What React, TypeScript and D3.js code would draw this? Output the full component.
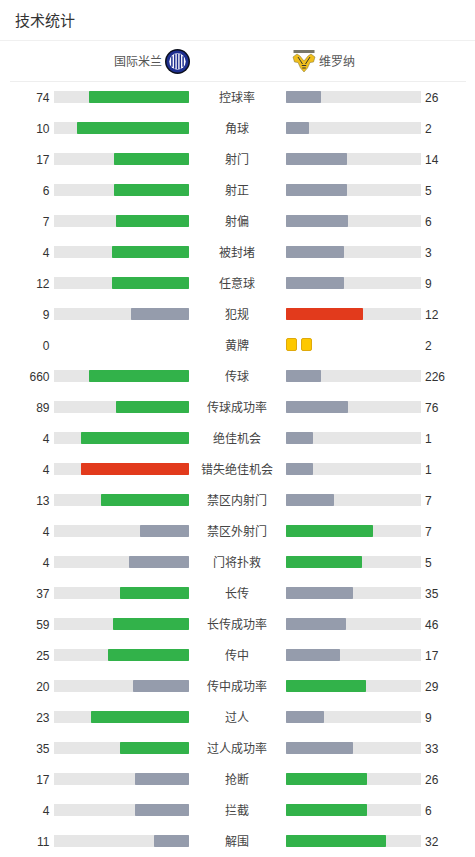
import React from "react";
import * as d3 from "d3";

const categories = ["控球率","角球","射门","射正","射偏","被封堵","任意球","犯规","黄牌","传球","传球成功率","绝佳机会","错失绝佳机会","禁区内射门","禁区外射门","门将扑救","长传","长传成功率","传中","传中成功率","过人","过人成功率","抢断","拦截","解围"];
const homeValues = [74,10,17,6,7,4,12,9,0,660,89,4,4,13,4,4,37,59,25,20,23,35,17,4,11];
const awayValues = [26,2,14,5,6,3,9,12,2,226,76,1,1,7,7,5,35,46,17,29,9,33,26,6,32];
// g = green, s = slate, r = red
const homeColors = "g g g g g g g s - g g g r g s s g g g s g g s s s".split(" ");
const awayColors = "s s s s s s s r - s s s s s g g s s s g s s g g g".split(" ");
const yellowCards = 2;
const palette: Record<string,string> = { g: "#32b24a", s: "#959cac", r: "#e23a1c" };

const font = "'Liberation Sans', 'Noto Sans CJK SC', sans-serif";
const textColor = "#333";

export default function App() {
  const rowY = d3.scaleLinear().domain([0, 1]).range([97, 128]);
  const share = d3.scaleLinear().domain([0, 100]).range([0, 135]);
  const leftEnd = 188.6, rightStart = 286.36, barH = 12;
  return (
    <svg width={475} height={857} style={{ position: "absolute", left: 0, top: 0, background: "#fff" }} fontFamily={font}>
      <text x={15} y={25.5} fontSize={15} fill="#333">技术统计</text>
      <line x1={0} x2={475} y1={40.5} y2={40.5} stroke="#f0f0f0" />
      <line x1={10} x2={466} y1={81.5} y2={81.5} stroke="#eeeeee" />
      <text x={162} y={65.5} fontSize={12} fill="#555" textAnchor="end">国际米兰</text>
      <text x={319} y={65.5} fontSize={12} fill="#555">维罗纳</text>

      <g transform="translate(177.5,61.5)">
        <circle r={12.5} fill="#0b0f1c" />
        <circle r={11} fill="#1d2f8f" />
        <circle r={8.2} fill="#fff" />
        {[-5.6, -2.8, 0, 2.8, 5.6].map((x) => (
          <line key={x} x1={x} x2={x} y1={-Math.sqrt(60 - x * x)} y2={Math.sqrt(60 - x * x)} stroke="#1d2f8f" strokeWidth={1.5} />
        ))}
      </g>

      <g transform="translate(304,60)">
        <rect x={-10.5} y={-10} width={21} height={3} fill="#77776a" />
        <path d="M-11,-3 L-7,-6 L-4,-4 L0,1 L4,-4 L7,-6 L11,-3 L9.5,2 L6,2.5 L3.5,8 L0,12 L-3.5,8 L-6,2.5 L-9.5,2 Z" fill="#f0bf1c" stroke="#7d7030" strokeWidth={0.5} />
        <path d="M-6,-3 L-1.5,4 M6,-3 L1.5,4" stroke="#3b3a2a" strokeWidth={1} fill="none" />
        <path d="M-2.2,5.5 H2.2 M-1.8,8 H1.8" stroke="#333" strokeWidth={1.1} />
      </g>

      {categories.map((cat, i) => {
        const y = rowY(i);
        const h = homeValues[i], a = awayValues[i];
        const total = h + a;
        const hw = share(Math.round((h / total) * 100)), aw = share(Math.round((a / total) * 100));
        const isCards = homeColors[i] === "-";
        const x0 = Math.round(leftEnd - 135), x1 = Math.round(leftEnd), xh = Math.round(leftEnd - hw);
        const x2 = Math.round(rightStart), xa = Math.round(rightStart + aw);
        return (
          <g key={cat}>
            <text x={49.5} y={y + 4.5} fontSize={12} fill={textColor} textAnchor="end">{h}</text>
            <text x={425} y={y + 4.5} fontSize={12} fill={textColor}>{a}</text>
            <text x={237} y={y + 4.5} fontSize={12} fill="#444" textAnchor="middle">{cat}</text>
            {isCards ? (
              d3.range(yellowCards).map((k) => (
                <rect key={k} x={286.5 + k * 15} y={y - 6.5} width={10} height={12} rx={1.5} fill="#fdc800" stroke="#dfa90c" />
              ))
            ) : (
              <>
                <rect x={x0} y={y - barH / 2} width={x1 - x0} height={barH} fill="#e6e6e6" />
                <rect x={xh} y={y - barH / 2} width={x1 - xh} height={barH} rx={0.8} fill={palette[homeColors[i]]} />
                <rect x={x2} y={y - barH / 2} width={135} height={barH} fill="#e6e6e6" />
                <rect x={x2} y={y - barH / 2} width={xa - x2} height={barH} rx={0.8} fill={palette[awayColors[i]]} />
              </>
            )}
          </g>
        );
      })}
    </svg>
  );
}
